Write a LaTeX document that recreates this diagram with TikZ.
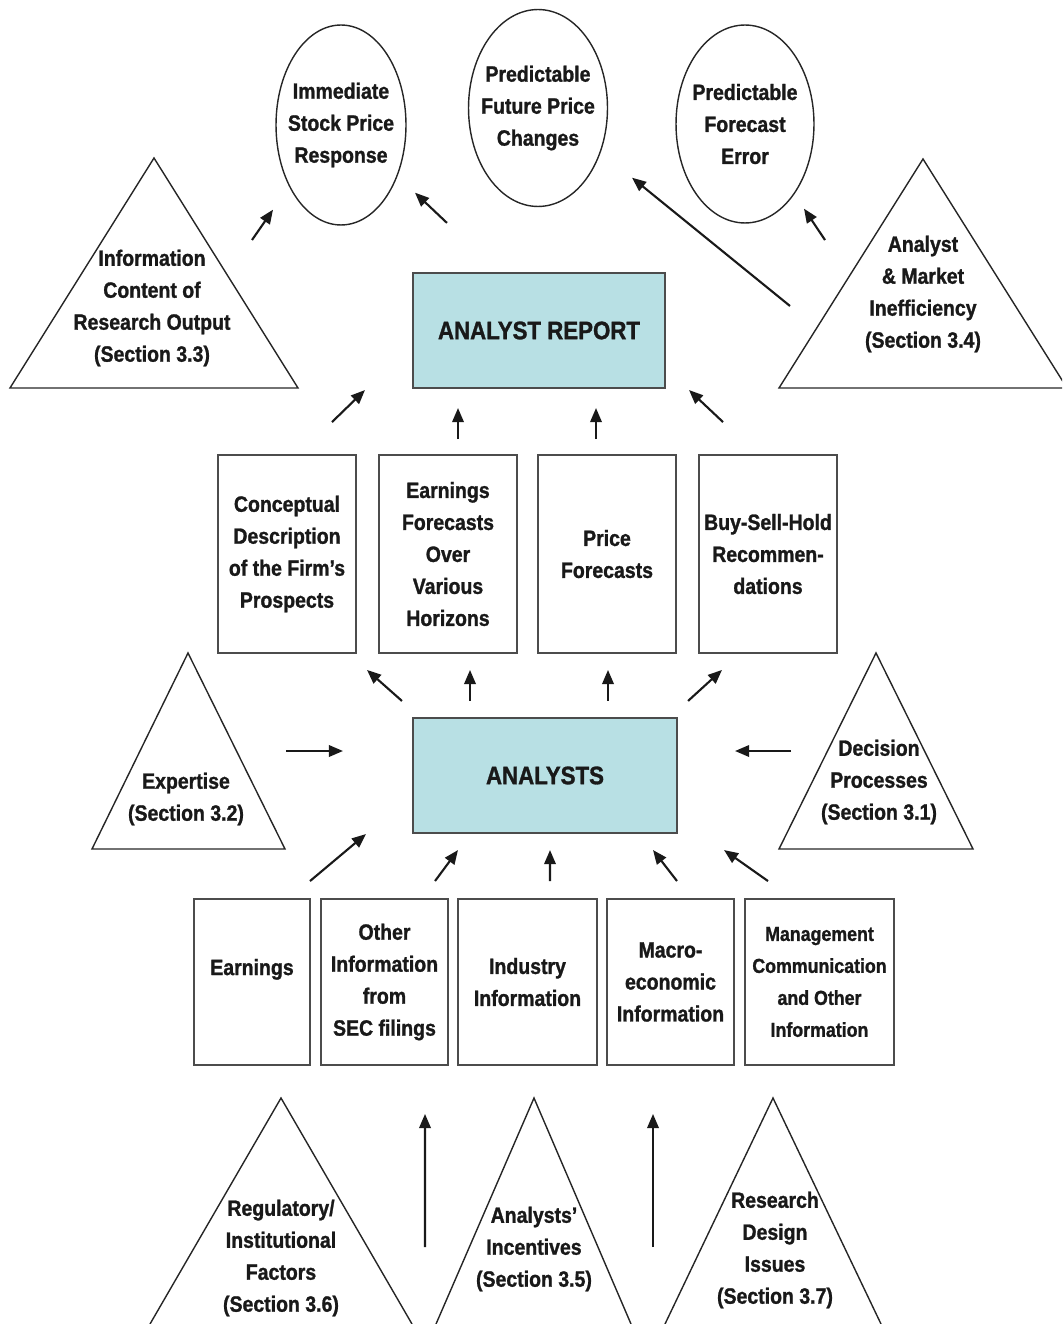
\documentclass[tikz,border=0pt]{standalone}
\usepackage{fontspec}
\setmainfont{Liberation Sans}
\newfontfamily\boxfont[FakeStretch=0.88, FakeBold=1.2]{Liberation Sans Bold}
\usetikzlibrary{arrows.meta, shapes.geometric}
\definecolor{hubfill}{RGB}{184,224,228}

\begin{document}
\begin{tikzpicture}[x=0.02cm, y=-0.02cm,
    lbl/.style={align=center, text=black!90, font=\boxfont\fontsize{12.6}{18.2}\selectfont},
    oval/.style={ellipse, draw=black!85, line width=0.8pt, inner sep=-6pt, lbl},
    hub/.style={draw=black!70, line width=1.2pt, fill=hubfill, minimum height=2.3cm, text=black!90, font=\boxfont\fontsize{14.4}{17}\selectfont},
    outbox/.style={draw=black!70, line width=1.1pt, minimum width=2.76cm, minimum height=3.96cm, inner sep=1pt, lbl},
    inbox/.style={draw=black!70, line width=1.1pt, minimum height=3.32cm, inner sep=1pt, lbl},
    tri/.style={draw=black!85, line width=0.8pt},
    arr/.style={-{Triangle[length=8pt, width=6.5pt]}, line width=1.2pt, black!90}
]
\useasboundingbox (0,0) rectangle (1062,1324);
\clip (0,0) rectangle (1062,1324);

% Market outcomes on top
\node[oval, minimum width=2.6cm, minimum height=4cm] (resp) at (341,125) {Immediate\\Stock Price\\Response};
\node[oval, minimum width=2.78cm, minimum height=3.94cm] (drift) at (538,108) {Predictable\\Future Price\\Changes};
\node[oval, minimum width=2.76cm, minimum height=3.96cm] (ferr) at (745,124) {Predictable\\Forecast\\Error};

% Research areas (triangles)
\draw[tri] (10,388) -- (154,158) -- (298,388) -- cycle;
\node[lbl] (info) at (152,308) {Information\\Content of\\Research Output\\(Section 3.3)};
\draw[tri] (779,388) -- (923,159) -- (1067,388) -- cycle;
\node[lbl] (mkt) at (923,294) {Analyst\\\& Market\\Inefficiency\\(Section 3.4)};
\draw[tri] (92,849) -- (188,653) -- (285,849) -- cycle;
\node[lbl] (expert) at (186,799) {Expertise\\(Section 3.2)};
\draw[tri] (779,849) -- (876,653) -- (973,849) -- cycle;
\node[lbl] (decide) at (879,782) {Decision\\Processes\\(Section 3.1)};
\draw[tri] (150,1324) -- (281,1098) -- (412,1324);
\node[lbl] (reg) at (281,1258) {Regulatory/\\Institutional\\Factors\\(Section 3.6)};
\draw[tri] (436,1324) -- (534,1098) -- (631,1324);
\node[lbl] (incent) at (534,1249) {Analysts’\\Incentives\\(Section 3.5)};
\draw[tri] (665,1324) -- (773,1098) -- (881,1324);
\node[lbl] (design) at (775,1250) {Research\\Design\\Issues\\(Section 3.7)};

% Report and analysts
\node[hub, minimum width=5.04cm] (report) at (539,330.5) {ANALYST REPORT};
\node[hub, minimum width=5.28cm] (analysts) at (545,775.5) {ANALYSTS};

% Research output
\node[outbox] (concept) at (287,554) {Conceptual\\Description\\of the Firm’s\\Prospects};
\node[outbox] (eps) at (448,554) {Earnings\\Forecasts\\Over\\Various\\Horizons};
\node[outbox] (price) at (607,554) {Price\\Forecasts};
\node[outbox] (rec) at (768,554) {Buy-Sell-Hold\\Recommen-\\dations};

% Information inputs
\node[inbox, minimum width=2.32cm, text depth=0.6cm] (earn) at (252,982) {Earnings};
\node[inbox, minimum width=2.54cm] (sec) at (384.5,982) {Other\\Information\\from\\SEC filings};
\node[inbox, minimum width=2.78cm] (ind) at (527.5,982) {Industry\\Information};
\node[inbox, minimum width=2.54cm] (macro) at (670.5,982) {Macro-\\economic\\Information};
\node[inbox, minimum width=2.98cm, font=\boxfont\fontsize{11.5}{18.2}\selectfont] (mgmt) at (819.5,982) {Management\\Communication\\and Other\\Information};

% Arrows to the outcomes
\draw[arr] ([shift={(100,-68)}]info.center) -- ([shift={(-68,-16)}]resp.south);
\draw[arr] ([shift={(-92,-49)}]report.north) -- ([shift={(74,-33)}]resp.south);
\draw[arr] ([shift={(-133,12)}]mkt.center) -- ([shift={(94,-29.5)}]drift.south);
\draw[arr] ([shift={(-98,-54)}]mkt.center) -- ([shift={(59,-15)}]ferr.south);

% Output into the report
\draw[arr] ([shift={(45,-32)}]concept.north) -- ([shift={(-47,1)}]report.south west);
\draw[arr] ([shift={(10,-15)}]eps.north) -- ([shift={(-81,19)}]report.south);
\draw[arr] ([shift={(-11,-15)}]price.north) -- ([shift={(57,19)}]report.south);
\draw[arr] ([shift={(-45,-32)}]rec.north) -- ([shift={(23,1)}]report.south east);

% Analysts produce the output
\draw[arr] ([shift={(-10,-16)}]analysts.north west) -- ([shift={(80,16)}]concept.south);
\draw[arr] ([shift={(-75,-16)}]analysts.north) -- ([shift={(22,16)}]eps.south);
\draw[arr] ([shift={(63,-16)}]analysts.north) -- ([shift={(1,16)}]price.south);
\draw[arr] ([shift={(10,-16)}]analysts.north east) -- ([shift={(-46,16)}]rec.south);

% Expertise and decision processes
\draw[arr] ([shift={(100,-48)}]expert.center) -- ([shift={(-69,-24.5)}]analysts.west);
\draw[arr] ([shift={(-88,-31)}]decide.center) -- ([shift={(57,-24.5)}]analysts.east);

% Inputs into the analysts
\draw[arr] ([shift={(58,-17)}]earn.north) -- ([shift={(-46,0)}]analysts.south west);
\draw[arr] ([shift={(50.5,-17)}]sec.north) -- ([shift={(-87,16)}]analysts.south);
\draw[arr] ([shift={(22.5,-17)}]ind.north) -- ([shift={(5,16)}]analysts.south);
\draw[arr] ([shift={(6.5,-17)}]macro.north) -- ([shift={(108,16)}]analysts.south);
\draw[arr] ([shift={(-51.5,-17)}]mgmt.north) -- ([shift={(46,16)}]analysts.south east);

% Bottom arrows
\draw[arr] ([shift={(144,-11)}]reg.center) -- ([shift={(40.5,48)}]sec.south);
\draw[arr] ([shift={(-122,-3)}]design.center) -- ([shift={(-17.5,48)}]macro.south);

\end{tikzpicture}
\end{document}
